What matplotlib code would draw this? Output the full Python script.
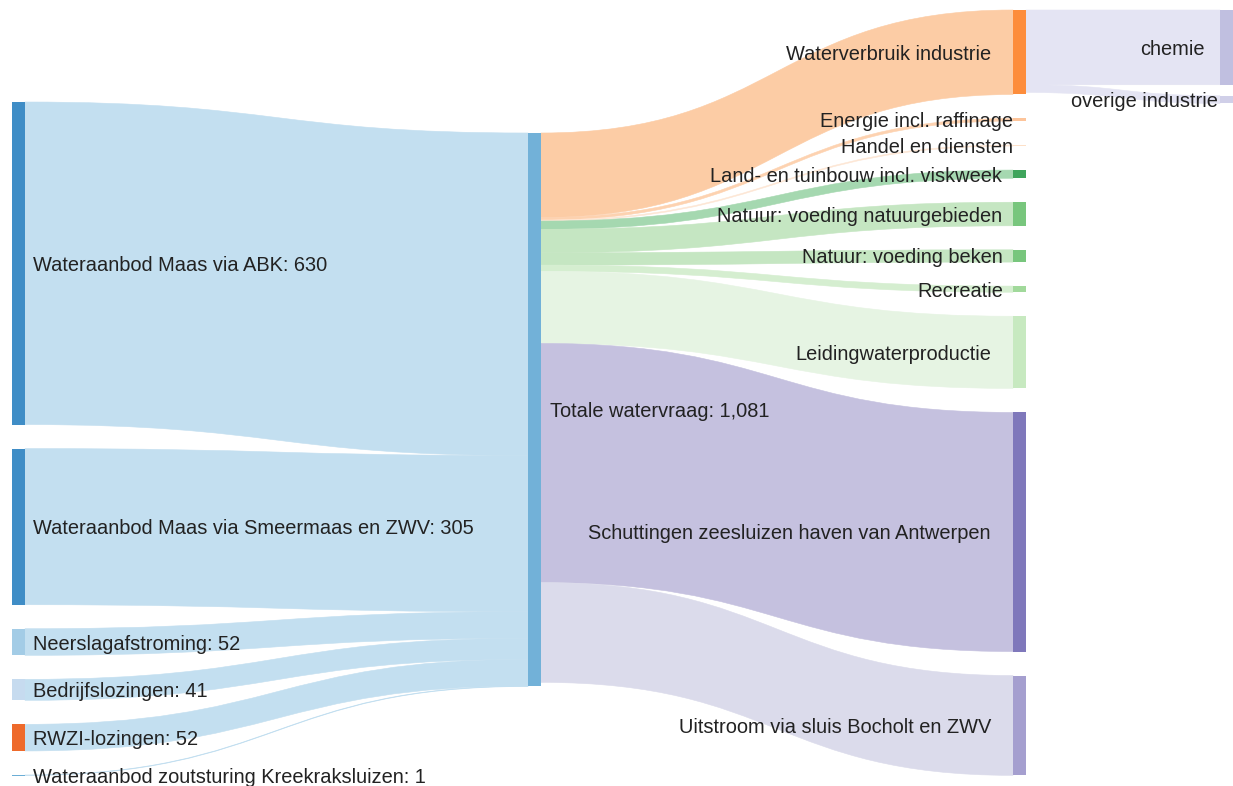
import matplotlib
matplotlib.use("Agg")
import matplotlib.pyplot as plt
from matplotlib.path import Path
from matplotlib.patches import PathPatch, Rectangle

plt.rcParams['font.family'] = ['Liberation Sans', 'DejaVu Sans']

# Knoten pro Spalte (Werte in mln m3/jaar)
bron_namen = ["Wateraanbod Maas via ABK", "Wateraanbod Maas via Smeermaas en ZWV",
              "Neerslagafstroming", "Bedrijfslozingen", "RWZI-lozingen",
              "Wateraanbod zoutsturing Kreekraksluizen"]
bron_waarden = [630, 305, 52, 41, 52, 1]

totaal_naam = "Totale watervraag"

vraag_namen = ["Waterverbruik industrie", "Energie incl. raffinage", "Handel en diensten",
               "Land- en tuinbouw incl. viskweek", "Natuur: voeding natuurgebieden",
               "Natuur: voeding beken", "Recreatie", "Leidingwaterproductie",
               "Schuttingen zeesluizen haven van Antwerpen", "Uitstroom via sluis Bocholt en ZWV"]
vraag_waarden = [165, 5, 2, 16, 46, 24, 12, 141, 467, 195]

industrie_namen = ["chemie", "overige industrie"]
industrie_waarden = [146, 15]

# Farben
bron_kleur = ["#3f8dc6", "#3f8dc6", "#a3cce6", "#c6dbef", "#ee6a2b", "#6baed6"]
bron_link_kleur = "#c3dff0"
totaal_kleur = "#72b1d8"
vraag_kleur = ["#fd8d3c", "#fdc49a", "#fde0c8", "#3fa55c", "#78c67d", "#78c67d",
               "#a1d99b", "#c7e9c0", "#7f78bb", "#a59fcf"]
vraag_link_kleur = ["#fccca5", "#fdd2b0", "#fde6d4", "#a5d8b0", "#c5e6c2", "#c5e6c2",
                    "#d5eed0", "#e6f4e3", "#c5c1df", "#dbdbeb"]
industrie_kleur = ["#c0bfe0", "#d0cfe8"]
industrie_link_kleur = "#e4e4f3"
tekst_kleur = "#222222"

# Layout (Pixel)
schaal = 0.512
knoop_breedte = 13
kolom_x = [12, 528, 1013, 1220]
kolom_top = [102, 133, 10, 10]
kolom_gap = [24, 24, 24, 11]
vraag_label_x = [991, 1013, 1013, 1002, 1002, 1003, 1003, 991, 991, 991]
industrie_label_x = [1205, 1218]
tekst_dy = 2
fs = 14.4


def stapel(waarden, top, gap):
    posities = []
    y = top
    for w in waarden:
        h = w * schaal
        posities.append((y, y + h))
        y += h + gap
    return posities


def band(ax, x0, y0a, y0b, x1, y1a, y1b, kleur):
    xm = (x0 + x1) / 2
    verts = [(x0, y0a), (xm, y0a), (xm, y1a), (x1, y1a),
             (x1, y1b), (xm, y1b), (xm, y0b), (x0, y0b), (x0, y0a)]
    codes = [Path.MOVETO, Path.CURVE4, Path.CURVE4, Path.CURVE4,
             Path.LINETO, Path.CURVE4, Path.CURVE4, Path.CURVE4, Path.CLOSEPOLY]
    ax.add_patch(PathPatch(Path(verts, codes), facecolor=kleur, edgecolor=kleur,
                           lw=0.4, zorder=1))


def knoop(ax, x, y0, y1, kleur):
    ax.add_patch(Rectangle((x, y0), knoop_breedte, max(y1 - y0, 0.6),
                           facecolor=kleur, edgecolor="none", zorder=2))


def label(ax, x, y, tekst, ha):
    ax.text(x, y + tekst_dy, tekst, ha=ha, va="center", fontsize=fs,
            color=tekst_kleur, zorder=3)


fig = plt.figure(figsize=(12.33, 7.86), dpi=100)
ax = fig.add_axes([0, 0, 1, 1])
ax.set_xlim(0, 1233)
ax.set_ylim(786, 0)
ax.axis("off")

bron_pos = stapel(bron_waarden, kolom_top[0], kolom_gap[0])
totaal = max(sum(bron_waarden), sum(vraag_waarden))
totaal_pos = (kolom_top[1], kolom_top[1] + totaal * schaal)
vraag_pos = stapel(vraag_waarden, kolom_top[2], kolom_gap[2])
industrie_pos = stapel(industrie_waarden, kolom_top[3], kolom_gap[3])

# Links: Bronnen -> Totale watervraag
y_in = totaal_pos[0]
for (y0, y1), w in zip(bron_pos, bron_waarden):
    h = w * schaal
    band(ax, kolom_x[0] + knoop_breedte, y0, y1, kolom_x[1], y_in, y_in + h, bron_link_kleur)
    y_in += h

# Links: Totale watervraag -> Vraag
y_uit = totaal_pos[0]
for (y0, y1), w, k in zip(vraag_pos, vraag_waarden, vraag_link_kleur):
    h = w * schaal
    band(ax, kolom_x[1] + knoop_breedte, y_uit, y_uit + h, kolom_x[2], y0, y1, k)
    y_uit += h

# Links: Industrie -> sectoren
y_uit = vraag_pos[0][0]
for (y0, y1), w in zip(industrie_pos, industrie_waarden):
    h = w * schaal
    band(ax, kolom_x[2] + knoop_breedte, y_uit, y_uit + h, kolom_x[3], y0, y1, industrie_link_kleur)
    y_uit += h

# Knoten und Beschriftungen
for (y0, y1), naam, w, k in zip(bron_pos, bron_namen, bron_waarden, bron_kleur):
    knoop(ax, kolom_x[0], y0, y1, k)
    label(ax, kolom_x[0] + knoop_breedte + 8, (y0 + y1) / 2, f"{naam}: {w:,}", "left")

knoop(ax, kolom_x[1], totaal_pos[0], totaal_pos[1], totaal_kleur)
label(ax, kolom_x[1] + knoop_breedte + 9, sum(totaal_pos) / 2, f"{totaal_naam}: {totaal:,}", "left")

for (y0, y1), naam, k, lx in zip(vraag_pos, vraag_namen, vraag_kleur, vraag_label_x):
    knoop(ax, kolom_x[2], y0, y1, k)
    label(ax, lx, (y0 + y1) / 2, naam, "right")

for (y0, y1), naam, k, lx in zip(industrie_pos, industrie_namen, industrie_kleur, industrie_label_x):
    knoop(ax, kolom_x[3], y0, y1, k)
    label(ax, lx, (y0 + y1) / 2, naam, "right")

fig.savefig("out.png", dpi=100)
